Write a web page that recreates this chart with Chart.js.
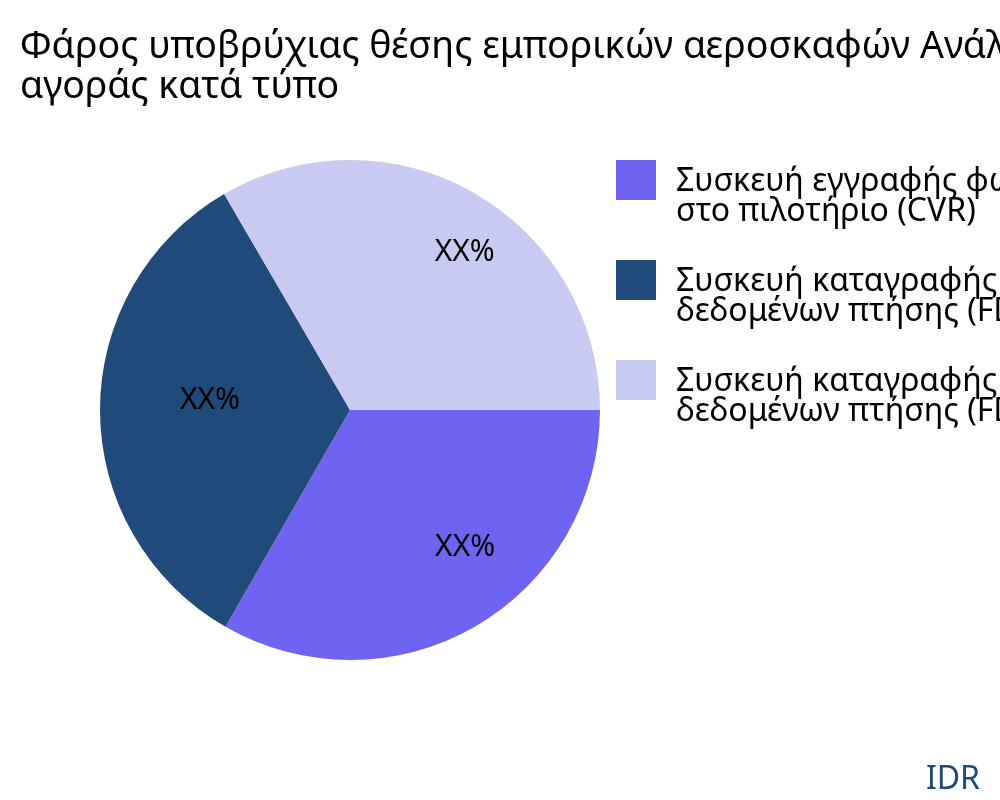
<!DOCTYPE html>
<html>
<head>
<meta charset="utf-8">
<script src="https://cdn.jsdelivr.net/npm/chart.js@4"></script>
<style>
  html, body { margin: 0; padding: 0; background: #fff; }
  #wrap { width: 1000px; height: 800px; }
</style>
</head>
<body>
<div id="wrap"><canvas id="chart" width="1000" height="800"></canvas></div>
<script>
const titleLines = ['Φάρος υποβρύχιας θέσης εμπορικών αεροσκαφών Ανάλυση', 'αγοράς κατά τύπο'];
const categories = [
  ['Συσκευή εγγραφής φωνής', 'στο πιλοτήριο (CVR)'],
  ['Συσκευή καταγραφής', 'δεδομένων πτήσης (FDR)'],
  ['Συσκευή καταγραφής', 'δεδομένων πτήσης (FDR)']
];
const values = [33.3, 33.3, 33.4];
const valueLabels = ['XX%', 'XX%', 'XX%'];
const colors = ['#6f63f2', '#1f4a7a', '#c8caf2'];
const FONT = '"Noto Sans", "Open Sans", sans-serif';

// titel, legend, IDR en labels zelf tekenen
const decorPlugin = {
  id: 'decor',
  afterDraw(chart) {
    const ctx = chart.ctx;
    ctx.save();
    ctx.fillStyle = '#000';
    ctx.textBaseline = 'alphabetic';
    ctx.textAlign = 'left';
    ctx.font = '37.5px ' + FONT;
    ctx.fillText(titleLines[0], 20, 58);
    ctx.fillText(titleLines[1], 20, 98);

    ctx.font = '32px ' + FONT;
    categories.forEach((lines, i) => {
      const y = 160 + i * 100;
      ctx.fillStyle = colors[i];
      ctx.fillRect(616, y, 40, 40);
      ctx.fillStyle = '#000';
      ctx.fillText(lines[0], 676, y + 31);
      ctx.fillText(lines[1], 676, y + 61);
    });

    const meta = chart.getDatasetMeta(0);
    ctx.textAlign = 'center';
    ctx.textBaseline = 'middle';
    ctx.font = '30px ' + FONT;
    meta.data.forEach((arc, i) => {
      const mid = (arc.startAngle + arc.endAngle) / 2;
      const r = arc.outerRadius * 0.68;
      ctx.fillText(valueLabels[i], arc.x + Math.cos(mid) * r + 30, arc.y + Math.sin(mid) * r - 10);
    });

    ctx.textAlign = 'right';
    ctx.fillStyle = '#1f4a7a';
    ctx.font = '32px ' + FONT;
    ctx.fillText('IDR', 980, 780);
    ctx.restore();
  }
};

new Chart(document.getElementById('chart'), {
  type: 'pie',
  data: {
    labels: categories.map(l => l.join(' ')),
    datasets: [{
      data: values,
      backgroundColor: colors,
      borderWidth: 0
    }]
  },
  options: {
    responsive: false,
    animation: false,
    rotation: 90,
    layout: { padding: { left: 100, right: 400, top: 160, bottom: 140 } },
    plugins: {
      legend: { display: false },
      title: { display: false },
      tooltip: { enabled: false }
    }
  },
  plugins: [decorPlugin]
});
</script>
</body>
</html>
